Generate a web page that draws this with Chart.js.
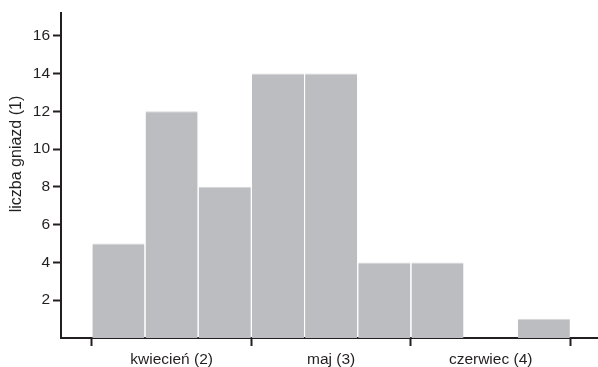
<!DOCTYPE html>
<html>
<head>
<meta charset="utf-8">
<script src="https://cdn.jsdelivr.net/npm/chart.js@4/dist/chart.umd.min.js"></script>
<style>
  html, body { margin: 0; padding: 0; background: #fff; }
  #wrap { width: 598px; height: 367px; }
</style>
</head>
<body>
<div id="wrap"><canvas id="chart" width="598" height="367"></canvas></div>
<script>
// half-month bins, counts
const binValues = [5, 12, 8, 14, 14, 4, 4, 0, 1];
const monthLabels = ["kwiecień (2)", "maj (3)", "czerwiec (4)"];
const monthEdges = [0, 3, 6, 9];
const monthCenters = [1.5, 4.5, 7.5];
const yTicks = [2, 4, 6, 8, 10, 12, 14, 16];
const yTitle = "liczba gniazd (1)";

const fontFamily = "Liberation Sans, Arial, sans-serif";
const font = { family: fontFamily, size: 15.5 };
const ink = "#231f20";

// y title sits above the middle of the axis in the original, so draw it by hand
const yTitlePlugin = {
  id: "yTitle",
  afterDraw(chart) {
    const c = chart.ctx;
    c.save();
    c.translate(17, 154);
    c.rotate(-Math.PI / 2);
    c.font = "16px " + fontFamily;
    c.fillStyle = ink;
    c.textAlign = "center";
    c.textBaseline = "middle";
    c.fillText(yTitle, 0, 0);
    c.restore();
  }
};

const ctx = document.getElementById("chart").getContext("2d");
new Chart(ctx, {
  type: "bar",
  data: {
    datasets: [{
      data: binValues.map((v, i) => ({ x: i + 0.5, y: v })),
      backgroundColor: "#bcbdc1",
      borderColor: "#d8d8db",
      borderWidth: (c) => (c.raw && c.raw.y > 0) ? { top: 1, left: 0, right: 0, bottom: 0 } : 0,
      borderSkipped: "bottom",
      barPercentage: 0.98,
      categoryPercentage: 1
    }]
  },
  options: {
    responsive: false,
    animation: false,
    layout: { padding: { top: 13, right: 1, left: 0, bottom: 0 } },
    plugins: { legend: { display: false }, tooltip: { enabled: false } },
    scales: {
      x: {
        type: "linear",
        offset: false,
        min: -0.58,
        max: 9.5,
        afterBuildTicks: (scale) => {
          scale.ticks = monthEdges.concat(monthCenters).sort((a, b) => a - b).map(v => ({ value: v }));
        },
        afterFit: (scale) => { scale.height = 29; },
        border: { color: ink, width: 2 },
        grid: {
          offset: false,
          drawOnChartArea: false,
          tickLength: 8,
          tickWidth: 2,
          tickColor: (c) => monthEdges.includes(c.tick && c.tick.value) ? ink : "rgba(0,0,0,0)"
        },
        ticks: {
          autoSkip: false,
          maxRotation: 0,
          padding: 4,
          color: ink,
          font: font,
          callback: (v) => {
            const k = monthCenters.indexOf(v);
            return k >= 0 ? monthLabels[k] : "";
          }
        }
      },
      y: {
        min: 0,
        max: 17.2,
        afterBuildTicks: (scale) => { scale.ticks = yTicks.map(v => ({ value: v })); },
        afterFit: (scale) => { scale.width = 61; },
        border: { color: ink, width: 2 },
        grid: { drawOnChartArea: false, tickLength: 8, tickWidth: 2, color: ink },
        ticks: { padding: 3, color: ink, font: font }
      }
    }
  },
  plugins: [yTitlePlugin]
});
</script>
</body>
</html>
